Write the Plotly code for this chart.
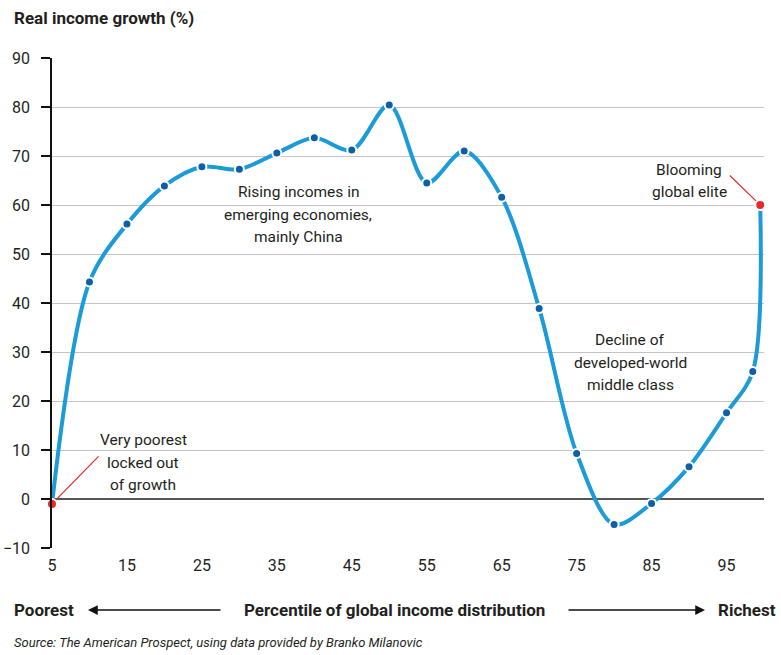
import plotly.graph_objects as go

# Real income growth by percentile of the global income distribution
percentiles = [5, 10, 15, 20, 25, 30, 35, 40, 45, 50, 55, 60, 65, 70, 75, 80, 85, 90, 95, 98.5, 99.5]
growth = [-1.0, 44.3, 56.1, 63.9, 67.8, 67.3, 70.6, 73.7, 71.2, 80.4, 64.5, 71.0, 61.6,
          38.9, 9.3, -5.2, -0.9, 6.6, 17.6, 26.0, 60.0]

x_ticks = [5, 15, 25, 35, 45, 55, 65, 75, 85, 95]
y_ticks = [-10, 0, 10, 20, 30, 40, 50, 60, 70, 80, 90]

W, H = 781, 655
ML, MR, MT, MB = 52, 17, 58, 107
PW, PH = W - ML - MR, H - MT - MB

FONT = "Roboto, Liberation Sans, sans-serif"
TXT = "#231f20"
LINE_BLUE = "#1b9bd8"
DOT_BLUE = "#0c5fa9"
RED = "#e8282b"


def px(x):
    return (x - ML) / PW


def py(y):
    return (H - MB - y) / PH


fig = go.Figure()

fig.add_trace(go.Scatter(
    x=percentiles, y=growth, mode="lines",
    line=dict(color=LINE_BLUE, width=4, shape="spline", smoothing=0.9),
    hoverinfo="skip", cliponaxis=False,
))

fig.add_trace(go.Scatter(
    x=percentiles[1:-1], y=growth[1:-1], mode="markers",
    marker=dict(color=DOT_BLUE, size=9, line=dict(color="white", width=2)),
    cliponaxis=False,
))

fig.add_trace(go.Scatter(
    x=[percentiles[0], percentiles[-1]], y=[growth[0], growth[-1]], mode="markers",
    marker=dict(color=RED, size=10, line=dict(color="white", width=2)),
    cliponaxis=False,
))

annotations = []

# Callout labels, one annotation per line for even line spacing
callouts = [
    (["Very poorest", "locked out", "of growth"], 143, 440),
    (["Rising incomes in", "emerging economies,", "mainly China"], 298, 192),
    (["Decline of", "developed-world", "middle class"], 630, 340),
    (["Blooming", "global elite"], 689, 170),
]
for lines, cx, cy in callouts:
    for i, line in enumerate(lines):
        annotations.append(dict(
            text=line, x=px(cx), y=py(cy + 22.5 * i), xref="paper", yref="paper",
            showarrow=False, xanchor="center", yanchor="middle",
            font=dict(family=FONT, size=15.5, color=TXT),
        ))

# Red leader lines to the highlighted end points
annotations.append(dict(
    text="", x=percentiles[0], y=growth[0], xref="x", yref="y",
    ax=48, ay=-49, showarrow=True, arrowhead=0, arrowwidth=1.2,
    arrowcolor=RED, standoff=6,
))
annotations.append(dict(
    text="", x=percentiles[-1], y=growth[-1], xref="x", yref="y",
    ax=-32, ay=-31, showarrow=True, arrowhead=0, arrowwidth=1.2,
    arrowcolor=RED, standoff=6,
))

# Title
annotations.append(dict(
    text="<b>Real income growth (%)</b>", x=px(12), y=py(18), xref="paper", yref="paper",
    showarrow=False, xanchor="left", yanchor="middle",
    font=dict(family=FONT, size=17, color=TXT),
))

# Bottom axis caption with arrows
for text, cx, anchor in [("Poorest", 12, "left"),
                         ("Percentile of global income distribution", 394, "center"),
                         ("Richest", 778, "right")]:
    annotations.append(dict(
        text="<b>" + text + "</b>", x=px(cx), y=py(610), xref="paper", yref="paper",
        showarrow=False, xanchor=anchor, yanchor="middle",
        font=dict(family=FONT, size=17, color=TXT),
    ))
annotations.append(dict(
    text="", x=px(88), y=py(610), xref="paper", yref="paper",
    ax=134, ay=0, showarrow=True, arrowhead=2, arrowsize=1.3, arrowwidth=1.5,
    arrowcolor="#111",
))
annotations.append(dict(
    text="", x=px(705), y=py(610), xref="paper", yref="paper",
    ax=-138, ay=0, showarrow=True, arrowhead=2, arrowsize=1.3, arrowwidth=1.5,
    arrowcolor="#111",
))

# Source line
annotations.append(dict(
    text="<i>Source: The American Prospect, using data provided by Branko Milanovic</i>",
    x=px(12), y=py(643), xref="paper", yref="paper",
    showarrow=False, xanchor="left", yanchor="middle",
    font=dict(family=FONT, size=13, color=TXT),
))

fig.update_layout(
    width=W, height=H,
    margin=dict(l=ML, r=MR, t=MT, b=MB),
    paper_bgcolor="white", plot_bgcolor="white",
    showlegend=False,
    annotations=annotations,
    xaxis=dict(
        range=[5, 100], tickvals=x_ticks, showgrid=False, zeroline=False,
        showline=False, ticks="", ticklabelstandoff=6, automargin=False,
        tickfont=dict(family=FONT, size=16, color=TXT),
    ),
    yaxis=dict(
        range=[-10, 90], tickvals=y_ticks, showgrid=True, gridcolor="#c4c4c4",
        gridwidth=1.2, zeroline=True, zerolinecolor="#555555", zerolinewidth=2,
        showline=True, linecolor="#111", linewidth=1.5,
        ticks="outside", ticklen=9, tickcolor="#111", tickwidth=1.5,
        ticklabelstandoff=8, automargin=False,
        tickfont=dict(family=FONT, size=16, color=TXT),
    ),
)

fig.write_html("out.html")
